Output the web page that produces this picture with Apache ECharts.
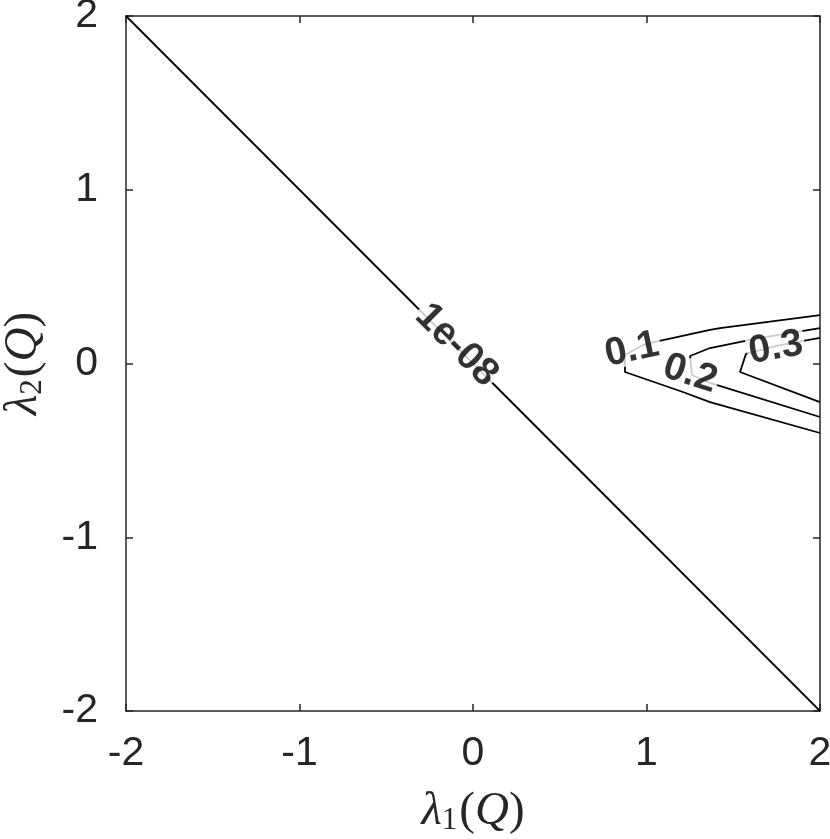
<!DOCTYPE html>
<html>
<head>
<meta charset="utf-8">
<script src="https://cdn.jsdelivr.net/npm/echarts@6/dist/echarts.min.js"></script>
<style>html,body{margin:0;padding:0;background:#fff}#c{width:830px;height:839px}</style>
</head>
<body>
<div id="c"></div>
<script>
// Axis ticks
var xTicks = [-2, -1, 0, 1, 2];
var yTicks = [-2, -1, 0, 1, 2];

// Contour level 1e-08 (diagonal)
var c1e8X = [-2, 2];
var c1e8Y = [2, -2];
// Contour level 0.1
var c01X = [2, 1.424, 1.366, 1.049, 0.980, 0.876, 0.876, 1.210, 1.366, 2];
var c01Y = [0.279, 0.204, 0.193, 0.124, 0.106, 0.049, -0.049, -0.164, -0.222, -0.400];
// Contour level 0.2
var c02X = [2, 1.654, 1.366, 1.251, 1.262, 1.366, 2];
var c02Y = [0.204, 0.147, 0.089, 0.043, -0.066, -0.112, -0.308];
// Contour level 0.3
var c03X = [2, 1.769, 1.573, 1.539, 2];
var c03Y = [0.147, 0.106, 0.055, -0.049, -0.222];

// Contour labels
var labelText = ['1e-08', '0.1', '0.2', '0.3'];
var labelX = [-0.095, 0.916, 1.251, 1.746];
var labelY = [0.105, 0.078, -0.060, 0.089];
var labelAngle = [-45, 12, -18, 10];

function zip(xs, ys) { return xs.map(function (x, i) { return [x, ys[i]]; }); }

var lineStyle = { color: '#000', width: 1.8 };
function contour(xs, ys) {
  return { type: 'line', data: zip(xs, ys), showSymbol: false, symbol: 'none',
           lineStyle: lineStyle, silent: true, animation: false, z: 2 };
}

var axisColor = '#262626';
var tickFont = 'Liberation Sans, Arial, Helvetica, sans-serif';
function xAx(pos, showLabel) {
  return {
    type: 'value', position: pos, min: -2, max: 2, interval: 1,
    axisLine: { show: true, onZero: false, lineStyle: { color: axisColor, width: 1.5 } },
    axisTick: { show: true, inside: true, length: 7, lineStyle: { color: axisColor, width: 1.5 } },
    splitLine: { show: false },
    axisLabel: { show: showLabel, color: axisColor, fontSize: 41, fontFamily: tickFont, margin: 22,
      formatter: function (v) { return xTicks.indexOf(v) >= 0 ? String(v) : ''; } }
  };
}
function yAx(pos, showLabel) {
  return {
    type: 'value', position: pos, min: -2, max: 2, interval: 1,
    axisLine: { show: true, onZero: false, lineStyle: { color: axisColor, width: 1.5 } },
    axisTick: { show: true, inside: true, length: 7, lineStyle: { color: axisColor, width: 1.5 } },
    splitLine: { show: false },
    axisLabel: { show: showLabel, color: axisColor, fontSize: 41, fontFamily: tickFont, margin: 28,
      formatter: function (v) { return yTicks.indexOf(v) >= 0 ? String(v) : ''; } }
  };
}

var nameRich = {
  i: { fontFamily: 'Liberation Serif, serif', fontStyle: 'italic', fontSize: 47, color: axisColor },
  n: { fontFamily: 'Liberation Serif, serif', fontSize: 47, color: axisColor },
  s: { fontFamily: 'Liberation Serif, serif', fontSize: 31, color: axisColor, verticalAlign: 'bottom', padding: [18, 2, 0, 0] }
};

var xA0 = xAx('bottom', true);
xA0.name = '{i|λ}{s|1}{n|(}{i|Q}{n|)}';
xA0.nameLocation = 'middle';
xA0.nameGap = 76;
xA0.nameTextStyle = { rich: nameRich };
var yA0 = yAx('left', true);
yA0.name = '{i|λ}{s|2}{n|(}{i|Q}{n|)}';
yA0.nameLocation = 'middle';
yA0.nameGap = 78;
yA0.nameRotate = 90;
yA0.nameTextStyle = { rich: nameRich };

var labelData = labelText.map(function (t, i) {
  return { value: [labelX[i], labelY[i]],
    label: { show: true, formatter: t, rotate: labelAngle[i], position: 'inside', color: '#000' } };
});

var option = {
  backgroundColor: '#fff',
  animation: false,
  grid: { left: 126, right: 10, top: 16, bottom: 128, containLabel: false, outerBoundsMode: 'none' },
  xAxis: [xA0, xAx('top', false)],
  yAxis: [yA0, yAx('right', false)],
  series: [
    contour(c1e8X, c1e8Y),
    contour(c01X, c01Y),
    contour(c02X, c02Y),
    contour(c03X, c03Y),
    { type: 'scatter', data: labelData, symbolSize: 1, itemStyle: { color: 'rgba(0,0,0,0)' }, z: 5,
      label: { show: true, color: '#000', fontSize: 39, fontWeight: 'bold', fontFamily: tickFont,
               backgroundColor: '#fff', padding: [0, 2, 0, 2], lineHeight: 30 }, silent: true }
  ]
};
echarts.init(document.getElementById('c'), null, { renderer: 'canvas' }).setOption(option);
</script>
</body>
</html>
